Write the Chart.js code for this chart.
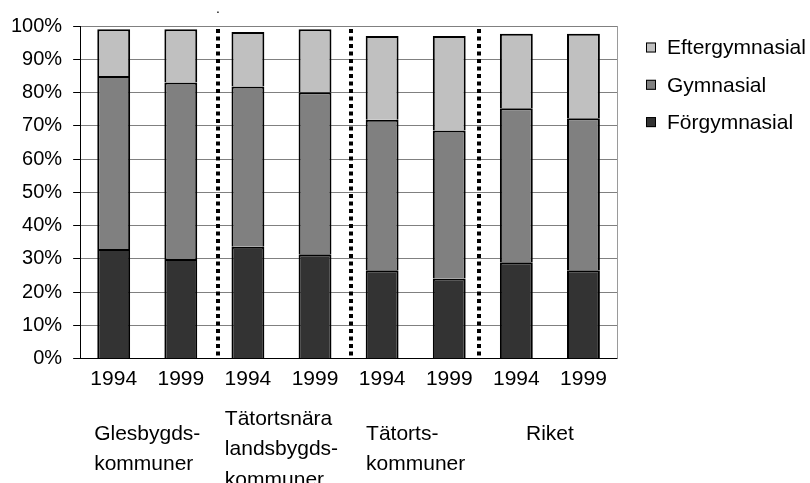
<!DOCTYPE html>
<html>
<head>
<meta charset="utf-8">
<script src="https://cdn.jsdelivr.net/npm/chart.js@4"></script>
<style>
  body { margin: 0; background: #fff; }
  #wrap { width: 810px; height: 483px; }
</style>
</head>
<body>
<div id="wrap"><canvas id="eduChart" width="810" height="483"></canvas></div>
<script>
// Values (percent of population)
const categories = ['1994', '1999', '1994', '1999', '1994', '1999', '1994', '1999'];
const groups = [
  ['Glesbygds-', 'kommuner'],
  ['Tätortsnära', 'landsbygds-', 'kommuner'],
  ['Tätorts-', 'kommuner'],
  ['Riket', '']
];
const forgymnasial = [33, 30, 33.7, 31.4, 26.6, 24.1, 29, 26.6];
const gymnasial = [52, 53, 48.1, 48.7, 45.2, 44.5, 46.3, 45.7];
const eftergymnasial = [14, 16, 16.4, 18.9, 25.2, 28.4, 22.4, 25.4];

const FONT = "'Liberation Sans', Arial, sans-serif";

// small pixel nudges for the dotted dividers, as in the original
const dividerNudge = [4, 2, -4];

const extras = {
  id: 'extras',
  beforeDatasetsDraw(chart) {
    const { ctx, chartArea: a } = chart;
    ctx.save();
    ctx.strokeStyle = '#9a9a9a';
    ctx.lineWidth = 1;
    ctx.beginPath();
    ctx.moveTo(a.right + 0.5, a.top);
    ctx.lineTo(a.right + 0.5, a.bottom);
    ctx.stroke();
    ctx.restore();
  },
  afterDraw(chart) {
    const { ctx, chartArea: a, scales: { x } } = chart;
    ctx.save();

    // dotted dividers between the groups
    ctx.strokeStyle = '#000';
    ctx.lineWidth = 4;
    ctx.setLineDash([4, 3.5]);
    for (let i = 0; i < groups.length - 1; i++) {
      const px = Math.round(x.getPixelForValue(2 * i + 1.5)) + dividerNudge[i];
      ctx.beginPath();
      ctx.moveTo(px, a.top + 3);
      ctx.lineTo(px, a.bottom - 3);
      ctx.stroke();
    }
    ctx.setLineDash([]);

    // stray dot above the first divider
    ctx.fillStyle = '#000';
    ctx.font = '14px ' + FONT;
    ctx.textAlign = 'center';
    ctx.textBaseline = 'alphabetic';
    ctx.fillText('.', Math.round(x.getPixelForValue(1.5)) + dividerNudge[0], 13);

    // group labels under the years (vertically centred blocks)
    ctx.font = '21px ' + FONT;
    ctx.textAlign = 'left';
    groups.forEach((lines, i) => {
      const cx = (x.getPixelForValue(2 * i) + x.getPixelForValue(2 * i + 1)) / 2;
      const w = Math.max(...lines.map(t => ctx.measureText(t).width));
      const left = cx - w / 2;
      lines.forEach((t, j) => {
        const y = 455 + (j - (lines.length - 1) / 2) * 30.5;
        ctx.fillText(t, left, y);
      });
    });

    // legend on the right, top series first
    const ds = chart.data.datasets.slice().reverse();
    ctx.textBaseline = 'middle';
    ds.forEach((d, i) => {
      const cy = 47.5 + i * 37.3;
      ctx.fillStyle = d.backgroundColor;
      ctx.fillRect(646, cy - 5, 10, 10);
      ctx.strokeStyle = '#000';
      ctx.lineWidth = 1;
      ctx.strokeRect(646.5, cy - 4.5, 9, 9);
      ctx.fillStyle = '#000';
      ctx.fillText(d.label, 667, cy + 1);
    });
    ctx.restore();
  }
};

const barStyle = {
  borderColor: '#000',
  borderWidth: 2,
  barPercentage: 0.49,
  categoryPercentage: 1
};

new Chart(document.getElementById('eduChart'), {
  type: 'bar',
  data: {
    labels: categories,
    datasets: [
      { label: 'Förgymnasial', data: forgymnasial, backgroundColor: '#333333', ...barStyle },
      { label: 'Gymnasial', data: gymnasial, backgroundColor: '#808080', ...barStyle },
      { label: 'Eftergymnasial', data: eftergymnasial, backgroundColor: '#c0c0c0', ...barStyle }
    ]
  },
  options: {
    responsive: false,
    animation: false,
    layout: { padding: { left: 0, right: 193, top: 26, bottom: 83 } },
    plugins: {
      legend: { display: false },
      tooltip: { enabled: false },
      title: { display: false }
    },
    scales: {
      x: {
        stacked: true,
        grid: { display: false, drawTicks: false },
        border: { display: true, color: '#000', width: 1 },
        ticks: { color: '#000', padding: 8, font: { family: FONT, size: 21 } }
      },
      y: {
        stacked: true,
        min: 0,
        max: 100,
        grid: { color: '#808080', tickColor: '#000', tickLength: 7 },
        border: { display: true, color: '#000', width: 1 },
        ticks: {
          stepSize: 10,
          color: '#000',
          padding: 11,
          font: { family: FONT, size: 20 },
          callback: v => v + '%'
        }
      }
    }
  },
  plugins: [extras]
});
</script>
</body>
</html>
